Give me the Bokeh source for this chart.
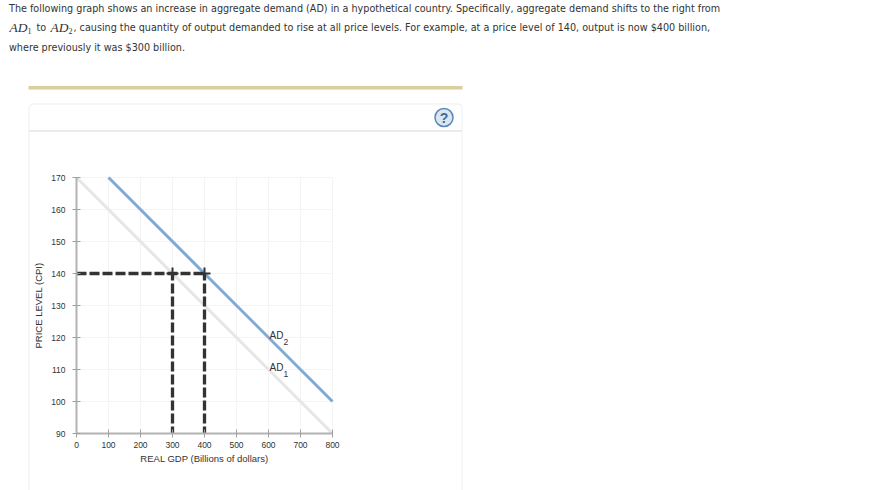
from bokeh.core.properties import value
from bokeh.embed import file_html
from bokeh.models import BoxAnnotation, ColumnDataSource, FixedTicker, Label, Range1d
from bokeh.plotting import figure
from bokeh.resources import INLINE

# chart values
ad1_gdp = [0, 800]
ad1_price = [170, 90]
ad2_gdp = [100, 800]
ad2_price = [170, 100]
guide_gdp = [300, 400]
guide_price = 140
gdp_ticks = [0, 100, 200, 300, 400, 500, 600, 700, 800]
price_ticks = [90, 100, 110, 120, 130, 140, 150, 160, 170]
curve_names = ["AD", "AD"]
curve_subs = ["1", "2"]
curve_label_gdp = [600, 600]
curve_label_price = [110, 120]

INK = "#333333"
AXIS = "#b3b3b3"
SANS = "DejaVu Sans"
CHART = "Liberation Sans"

WIDTH = 874
HEIGHT = 490

# where the axes sit on the page; the frame fills the whole canvas so the
# text and panel around the chart are not clipped
X0_PX, X1_PX = 76, 332
Y0_PX, Y1_PX = 433, 177
x_per_px = (gdp_ticks[-1] - gdp_ticks[0]) / (X1_PX - X0_PX)
y_per_px = (price_ticks[-1] - price_ticks[0]) / (Y0_PX - Y1_PX)
x_range = Range1d(gdp_ticks[0] - X0_PX * x_per_px, gdp_ticks[0] + (WIDTH - X0_PX) * x_per_px)
y_range = Range1d(price_ticks[0] - (HEIGHT - Y0_PX) * y_per_px, price_ticks[0] + Y0_PX * y_per_px)


def sy(py):
    return HEIGHT - py


p = figure(width=WIDTH, height=HEIGHT, output_backend="svg", toolbar_location=None, tools="",
           x_range=x_range, y_range=y_range, min_border=0)
p.outline_line_color = None
p.background_fill_color = "white"

# axes
p.xaxis.fixed_location = price_ticks[0]
p.yaxis.fixed_location = gdp_ticks[0]
p.xaxis.bounds = (gdp_ticks[0], gdp_ticks[-1])
p.yaxis.bounds = (price_ticks[0], price_ticks[-1])
p.xaxis.ticker = FixedTicker(ticks=gdp_ticks)
p.yaxis.ticker = FixedTicker(ticks=price_ticks)
p.xaxis.axis_label = "REAL GDP (Billions of dollars)"
p.yaxis.axis_label = "PRICE LEVEL (CPI)"
for ax in [p.xaxis, p.yaxis]:
    ax.axis_line_color = AXIS
    ax.axis_line_width = 2
    ax.major_tick_line_color = "#a0a0a0"
    ax.major_tick_in = 4
    ax.major_tick_out = 4
    ax.minor_tick_line_color = None
    ax.major_label_text_font = CHART
    ax.major_label_text_font_size = "8.5px"
    ax.major_label_text_color = INK
    ax.major_label_standoff = 4
    ax.axis_label_text_font = CHART
    ax.axis_label_text_font_size = "9.5px"
    ax.axis_label_text_font_style = "normal"
    ax.axis_label_text_color = INK
p.yaxis.major_label_standoff = 7
p.yaxis.axis_label_standoff = 4
p.xaxis.axis_label_standoff = 2

# grid only over the plot area
p.xgrid.visible = False
p.ygrid.visible = False
p.segment(gdp_ticks, [price_ticks[0]] * len(gdp_ticks), gdp_ticks, [price_ticks[-1]] * len(gdp_ticks),
          line_color="#f4f4f4", line_width=1)
p.segment([gdp_ticks[0]] * len(price_ticks), price_ticks, [gdp_ticks[-1]] * len(price_ticks), price_ticks,
          line_color="#f4f4f4", line_width=1)

# page furniture around the chart
p.add_layout(BoxAnnotation(left=28, right=462, top=sy(85.5), bottom=sy(89),
                           left_units="screen", right_units="screen", top_units="screen", bottom_units="screen",
                           fill_color="#dccf9e", fill_alpha=1, line_color=None, level="underlay"))
p.add_layout(BoxAnnotation(left=28.5, right=461.5, top=sy(103.5), bottom=sy(500),
                           left_units="screen", right_units="screen", top_units="screen", bottom_units="screen",
                           fill_alpha=0, line_color="#c8c8c8", line_width=1, border_radius=4, level="underlay"))
p.add_layout(BoxAnnotation(left=28.5, right=461.5, top=sy(130), bottom=sy(131),
                           left_units="screen", right_units="screen", top_units="screen", bottom_units="screen",
                           fill_color="#d8d8d8", fill_alpha=1, line_color=None, level="underlay"))


def page_text(text, x, y, size="9.65px", font=SANS, style="normal", color=INK):
    p.add_layout(Label(x=x, y=sy(y), x_units="screen", y_units="screen", text=text,
                       text_font=font, text_font_size=size, text_font_style=style,
                       text_color=color, text_baseline="middle"))


page_text("The following graph shows an increase in aggregate demand (AD) in a hypothetical country. Specifically, aggregate demand shifts to the right from", 8.5, 7.5)
page_text("AD", 9, 27, size="13.5px", font="Liberation Serif", style="italic")
page_text("1", 27, 30, size="8px", font="Liberation Serif")
page_text("to", 36, 27)
page_text("AD", 50, 27, size="13.5px", font="Liberation Serif", style="italic")
page_text("2", 68, 30, size="8px", font="Liberation Serif")
page_text(", causing the quantity of output demanded to rise at all price levels. For example, at a price level of 140, output is now $400 billion,", 73, 27)
page_text("where previously it was $300 billion.", 8.5, 46.5)

# help button
p.scatter([gdp_ticks[0] + (443.5 - X0_PX) * x_per_px], [price_ticks[0] + (Y0_PX - 117) * y_per_px], marker="circle",
          size=18, fill_color="#d9e6f1", line_color="#5b86b5", line_width=1.5)
p.add_layout(Label(x=443.5, y=sy(117), x_units="screen", y_units="screen", text="?",
                   text_font=CHART, text_font_size="14px", text_font_style="bold", text_color="#3f6a9c",
                   text_align="center", text_baseline="middle"))

# curves
p.line(ad1_gdp, ad1_price, line_color="#e6e6e6", line_width=3)
p.line(ad2_gdp, ad2_price, line_color="#7dabd3", line_width=3)

# dashed guides
p.line([gdp_ticks[0], guide_gdp[-1]], [guide_price, guide_price], line_color=INK, line_width=3.3, line_dash="10 3")
for g in guide_gdp:
    p.line([g, g], [guide_price, price_ticks[0]], line_color=INK, line_width=3.3, line_dash="10 3", line_dash_offset=3)
p.scatter(guide_gdp, [guide_price] * len(guide_gdp), marker="cross", size=12, line_color=INK, line_width=2)

# curve labels
labels = ColumnDataSource(data=dict(x=curve_label_gdp, y=curve_label_price, name=curve_names, sub=curve_subs))
p.text(x="x", y="y", text="name", source=labels, text_font=value(CHART), text_font_size="10px",
       text_color=INK, text_baseline="bottom", x_offset=1, y_offset=3)
p.text(x="x", y="y", text="sub", source=labels, text_font=value(CHART), text_font_size="8.5px",
       text_color=INK, text_baseline="bottom", x_offset=15, y_offset=7)

open("out.html", "w").write(file_html(p, INLINE))
